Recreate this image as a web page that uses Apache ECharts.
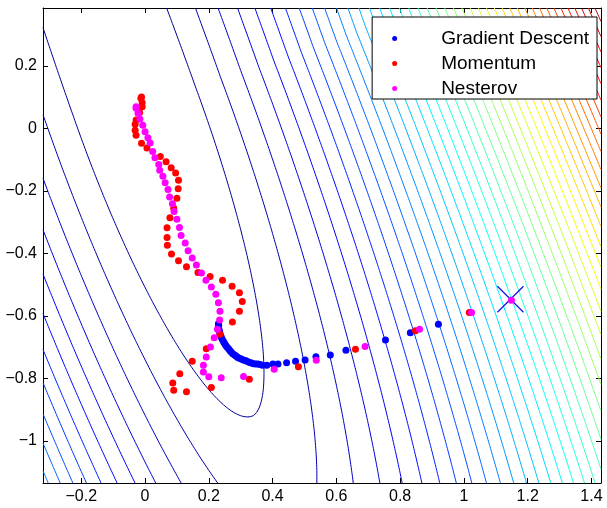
<!DOCTYPE html>
<html>
<head>
<meta charset="utf-8">
<script src="https://cdn.jsdelivr.net/npm/echarts@6.0.0/dist/echarts.min.js"></script>
<style>
html, body { margin: 0; padding: 0; background: #fff; }
#main { width: 607px; height: 508px; }
</style>
</head>
<body>
<div id="main"></div>
<script>
// axes
var xRange = [-0.32, 1.43];
var yRange = [-1.135, 0.385];
var xTicks = [-0.2, 0, 0.2, 0.4, 0.6, 0.8, 1, 1.2, 1.4];
var yTicks = [-1, -0.8, -0.6, -0.4, -0.2, 0, 0.2];

// start of all three runs
var startPoint = [[1.146, -0.547]];

var gdPoints = [
    [0.920, -0.627], [0.832, -0.654], [0.754, -0.677], [0.630, -0.710], [0.581, -0.725],
    [0.536, -0.731], [0.502, -0.741], [0.472, -0.745], [0.444, -0.750], [0.417, -0.754],
    [0.401, -0.754], [0.382, -0.758], [0.368, -0.758], [0.361, -0.756], [0.354, -0.754],
    [0.347, -0.754], [0.340, -0.753], [0.334, -0.751], [0.328, -0.749], [0.321, -0.746],
    [0.315, -0.743], [0.308, -0.741], [0.302, -0.738], [0.296, -0.736], [0.291, -0.733],
    [0.286, -0.729], [0.281, -0.725], [0.275, -0.721], [0.270, -0.716], [0.266, -0.711],
    [0.262, -0.705], [0.257, -0.700], [0.253, -0.694], [0.249, -0.688], [0.246, -0.682],
    [0.242, -0.675], [0.239, -0.668], [0.236, -0.660], [0.234, -0.652], [0.232, -0.644],
    [0.230, -0.636], [0.231, -0.630], [0.230, -0.625]
];

var momentumPoints = [
    [1.017, -0.589], [0.848, -0.648], [0.660, -0.707], [0.481, -0.763], [0.327, -0.803],
    [0.208, -0.829], [0.130, -0.843], [0.090, -0.838], [0.087, -0.815], [0.109, -0.785],
    [0.148, -0.745], [0.192, -0.705], [0.235, -0.659], [0.274, -0.620], [0.296, -0.585],
    [0.305, -0.554], [0.296, -0.526], [0.273, -0.505], [0.243, -0.486], [0.204, -0.474],
    [0.166, -0.461], [0.130, -0.443], [0.105, -0.424], [0.083, -0.402], [0.070, -0.374],
    [0.069, -0.349], [0.069, -0.318], [0.078, -0.286], [0.090, -0.256], [0.100, -0.224],
    [0.104, -0.193], [0.105, -0.166], [0.096, -0.143], [0.082, -0.126], [0.066, -0.107],
    [0.048, -0.090], [0.006, -0.063], [-0.011, -0.048], [-0.028, -0.022], [-0.031, -0.006],
    [-0.031, 0.013], [-0.028, 0.027], [-0.017, 0.051], [-0.009, 0.069], [-0.009, 0.082],
    [-0.013, 0.096], [-0.011, 0.100]
];

var nesterovPoints = [
    [1.149, -0.550], [1.024, -0.589], [0.861, -0.643], [0.690, -0.698], [0.537, -0.742],
    [0.405, -0.771], [0.309, -0.794], [0.239, -0.798], [0.200, -0.795], [0.183, -0.780],
    [0.183, -0.758], [0.192, -0.732], [0.205, -0.700], [0.217, -0.670], [0.227, -0.643],
    [0.234, -0.613], [0.235, -0.585], [0.230, -0.558], [0.222, -0.531], [0.208, -0.508],
    [0.191, -0.486], [0.177, -0.463], [0.161, -0.437], [0.148, -0.415], [0.135, -0.392],
    [0.126, -0.367], [0.113, -0.343], [0.108, -0.317], [0.100, -0.291], [0.091, -0.266],
    [0.086, -0.241], [0.077, -0.220], [0.072, -0.196], [0.063, -0.174], [0.056, -0.153],
    [0.046, -0.134], [0.043, -0.116], [0.031, -0.094], [0.024, -0.074], [0.016, -0.047],
    [0.009, -0.030], [0.000, -0.011], [-0.007, 0.010], [-0.016, 0.030], [-0.022, 0.048],
    [-0.028, 0.064], [-0.028, 0.069]
];

// loss surface: a tilted valley, steeper on the right side
var valleyMin = [-0.01, 0.07];
var valleyNormal = [0.944, 0.33];
var rightScale = 22, rightPow = 1.8, rightFade = 0.1;
var leftCurv = 22;
var lowScale = 0.907, lowPow = 2, highCurv = 0.3;
var colorHeadroom = 1.03;

function loss(x, y) {
    var dx = x - valleyMin[0], dy = y - valleyMin[1];
    var v = valleyNormal[0] * dx + valleyNormal[1] * dy;
    var s = -valleyNormal[1] * dx + valleyNormal[0] * dy;
    var g;
    if (v >= 0) {
        g = rightScale * Math.pow(v, rightPow) * (s < 0 ? 1 + rightFade * s : 1);
    } else {
        g = leftCurv * v * v;
    }
    var h = s < 0 ? lowScale * Math.pow(-s, lowPow) : highCurv * s * s;
    return g + h;
}

// sample grid
var step = 0.01;
var gx = [], gy = [], Z = [];
for (var x = xRange[0]; x <= xRange[1] + 1e-9; x += step) gx.push(x);
for (var y = yRange[0]; y <= yRange[1] + 1e-9; y += step) gy.push(y);
var nx = gx.length, ny = gy.length;
var zMin = Infinity, zMax = -Infinity;
for (var j = 0; j < ny; j++) {
    var row = [];
    for (var i = 0; i < nx; i++) {
        var z = loss(gx[i], gy[j]);
        row.push(z);
        if (z < zMin) zMin = z;
        if (z > zMax) zMax = z;
    }
    Z.push(row);
}

// marching squares, segments joined into polylines
function contourLines(level) {
    var pts = {}, adj = {};
    function cross(id, x1, y1, v1, x2, y2, v2) {
        if (!pts[id]) {
            var t = (level - v1) / (v2 - v1);
            pts[id] = [x1 + t * (x2 - x1), y1 + t * (y2 - y1)];
        }
        return id;
    }
    function link(a, b) {
        (adj[a] = adj[a] || []).push(b);
        (adj[b] = adj[b] || []).push(a);
    }
    for (var j = 0; j < ny - 1; j++) {
        for (var i = 0; i < nx - 1; i++) {
            var a = Z[j][i], b = Z[j][i + 1], c = Z[j + 1][i + 1], d = Z[j + 1][i];
            var ia = a >= level, ib = b >= level, ic = c >= level, id = d >= level;
            var list = [];
            if (ia !== ib) list.push(cross('h' + i + '_' + j, gx[i], gy[j], a, gx[i + 1], gy[j], b));
            if (ib !== ic) list.push(cross('v' + (i + 1) + '_' + j, gx[i + 1], gy[j], b, gx[i + 1], gy[j + 1], c));
            if (id !== ic) list.push(cross('h' + i + '_' + (j + 1), gx[i], gy[j + 1], d, gx[i + 1], gy[j + 1], c));
            if (ia !== id) list.push(cross('v' + i + '_' + j, gx[i], gy[j], a, gx[i], gy[j + 1], d));
            if (list.length === 2) {
                link(list[0], list[1]);
            } else if (list.length === 4) {
                if (((a + b + c + d) / 4 >= level) === ia) {
                    link(list[0], list[1]); link(list[2], list[3]);
                } else {
                    link(list[0], list[3]); link(list[1], list[2]);
                }
            }
        }
    }
    var used = {}, lines = [];
    function walk(start) {
        var line = [pts[start]], cur = start;
        used[start] = true;
        while (true) {
            var nb = adj[cur], next = null;
            for (var k = 0; k < nb.length; k++) {
                if (!used[nb[k]]) { next = nb[k]; break; }
            }
            if (next === null) {
                if (nb.indexOf(start) >= 0 && line.length > 2) line.push(pts[start]);
                break;
            }
            used[next] = true;
            line.push(pts[next]);
            cur = next;
        }
        return line;
    }
    var keys = Object.keys(adj);
    keys.forEach(function (k) { if (!used[k] && adj[k].length === 1) lines.push(walk(k)); });
    keys.forEach(function (k) { if (!used[k]) lines.push(walk(k)); });
    return lines;
}

// matlab jet
function jet(t) {
    function c(v) { return Math.round(255 * Math.max(0, Math.min(1, v))); }
    return 'rgb(' + c(1.5 - Math.abs(4 * t - 3)) + ',' + c(1.5 - Math.abs(4 * t - 2)) + ',' + c(1.5 - Math.abs(4 * t - 1)) + ')';
}

var series = [];
var colorTop = zMax * colorHeadroom;
for (var L = 1; L < zMax; L++) {
    var color = jet((L - zMin) / (colorTop - zMin));
    contourLines(L).forEach(function (line) {
        series.push({
            type: 'line',
            data: line,
            symbol: 'none',
            silent: true,
            lineStyle: { color: color, width: 1 },
            z: 1
        });
    });
}

series.push({
    name: 'start',
    type: 'scatter',
    data: startPoint,
    symbol: 'path://M0 0L10 10M10 0L0 10',
    symbolSize: 26,
    itemStyle: { color: 'rgba(0,0,0,0)', borderColor: '#1010ee', borderWidth: 1.2, opacity: 1 },
    z: 3
});
series.push({
    name: 'Gradient Descent', type: 'scatter', data: gdPoints, symbolSize: 7,
    itemStyle: { color: '#0000ff', opacity: 1 }, z: 4
});
series.push({
    name: 'Momentum', type: 'scatter', data: momentumPoints, symbolSize: 7,
    itemStyle: { color: '#ff0000', opacity: 1 }, z: 5
});
series.push({
    name: 'Nesterov', type: 'scatter', data: nesterovPoints, symbolSize: 7,
    itemStyle: { color: '#ff00ff', opacity: 1 }, z: 6
});

function tickLabel(v) {
    v = Math.round(v * 10) / 10;
    return v < 0 ? '\u2212' + Math.abs(v) : String(v);
}

var font = 'Liberation Sans, Arial, sans-serif';
function axis(pos, range, ticks, labels) {
    return {
        type: 'value',
        position: pos,
        min: range[0],
        max: range[1],
        axisLine: { show: true, onZero: false, lineStyle: { color: '#000', width: 1 } },
        axisTick: { show: true, inside: true, length: 5, customValues: ticks, lineStyle: { color: '#000' } },
        axisLabel: {
            show: labels, customValues: ticks, formatter: tickLabel,
            color: '#000', fontSize: 16, fontFamily: font, margin: 6
        },
        splitLine: { show: false }
    };
}

var chart = echarts.init(document.getElementById('main'));
chart.setOption({
    animation: false,
    backgroundColor: '#fff',
    grid: { left: 43, right: 6, top: 8, bottom: 25 },
    xAxis: [axis('bottom', xRange, xTicks, true), axis('top', xRange, xTicks, false)],
    yAxis: [axis('left', yRange, yTicks, true), axis('right', yRange, yTicks, false)],
    legend: {
        data: ['Gradient Descent', 'Momentum', 'Nesterov'],
        orient: 'vertical',
        right: 10,
        top: 17,
        padding: [12, 8, 1, 20],
        itemGap: 6,
        itemWidth: 5,
        itemHeight: 5,
        icon: 'circle',
        backgroundColor: '#fff',
        borderColor: '#000',
        borderWidth: 1,
        textStyle: { color: '#000', fontSize: 19, fontFamily: font, padding: [0, 0, 0, 39] }
    },
    series: series
});
</script>
</body>
</html>
